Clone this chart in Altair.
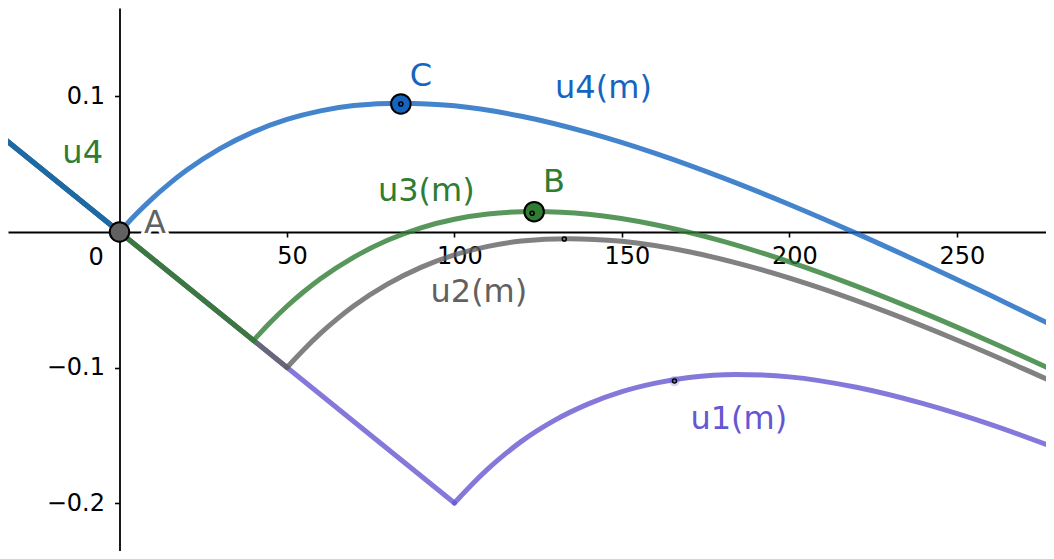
import altair as alt
import pandas as pd

# shared straight part u = -0.002 m
line_m = [-36, 0, 40, 50, 100]
line_u = [0.072, 0.0, -0.08, -0.1, -0.2]

# curved parts
u4_m = [0, 2, 5, 10, 15, 20, 30, 40, 50, 60, 70, 84, 100, 120, 140, 160, 180, 200, 220, 240, 260, 280]
u4_u = [0.0, 0.0054, 0.0132, 0.0252, 0.0359, 0.0455, 0.0615, 0.0739, 0.0831, 0.0894, 0.0933, 0.0951,
        0.0931, 0.0854, 0.0733, 0.058, 0.0401, 0.0203, -0.001, -0.0235, -0.0467, -0.0707]

u3_m = [40, 42, 45, 50, 55, 60, 70, 80, 90, 100, 110, 124, 140, 160, 180, 200, 220, 240, 260, 280]
u3_u = [-0.08, -0.0746, -0.0668, -0.0548, -0.0441, -0.0345, -0.0185, -0.0061, 0.0031, 0.0094, 0.0133,
        0.0151, 0.0131, 0.0054, -0.0067, -0.022, -0.0399, -0.0597, -0.081, -0.1035]

u2_m = [50, 52, 55, 60, 65, 70, 80, 90, 100, 110, 120, 134, 150, 170, 190, 210, 230, 250, 270, 290]
u2_u = [-0.1, -0.0946, -0.0868, -0.0748, -0.0641, -0.0545, -0.0385, -0.0261, -0.0169, -0.0106, -0.0067,
        -0.0049, -0.0069, -0.0146, -0.0267, -0.042, -0.0599, -0.0797, -0.101, -0.1235]

u1_m = [100, 102, 105, 110, 115, 120, 130, 140, 150, 160, 170, 184, 200, 220, 240, 260, 280, 300]
u1_u = [-0.2, -0.1946, -0.1868, -0.1748, -0.1641, -0.1545, -0.1388, -0.1268, -0.1178, -0.1115, -0.1074,
        -0.1051, -0.1069, -0.1146, -0.1267, -0.142, -0.1599, -0.1797]

# labelled points
pt_names = ["A", "B", "C"]
pt_m = [0, 123.8, 84.0]
pt_u = [0.0, 0.015, 0.0945]
pt_colors = ["#616161", "#2E7D32", "#1565C0"]

# small marker points
dot_m = [123.2, 84.0, 132.8, 165.7]
dot_u = [0.0138, 0.0945, -0.0052, -0.1100]

# text labels
lab_text = ["u4", "u4(m)", "u3(m)", "u2(m)", "u1(m)", "A", "B", "C"]
lab_m = [-11.0, 144.5, 91.6, 107.3, 184.9, 10.6, 129.7, 90.0]
lab_u = [0.0583, 0.1059, 0.0299, -0.0446, -0.138, 0.0066, 0.0369, 0.1148]
lab_colors = ["#2E7D32", "#1565C0", "#2E7D32", "#616161", "#6557D2", "#616161", "#2E7D32", "#1565C0"]

x_ticks = [50, 100, 150, 200, 250]
y_ticks = [-0.2, -0.1, 0.1]

FONT = "DejaVu Sans"

X = alt.X("m:Q", scale=alt.Scale(domain=[-33.29, 276.62], nice=False, zero=False),
          axis=alt.Axis(values=x_ticks, orient="bottom", offset=-319, title=None, grid=False,
                        domainColor="black", domainWidth=1.8, tickColor="black", tickWidth=1.6,
                        tickSize=5, labelFontSize=24, labelFont=FONT, labelColor="black",
                        labelPadding=7, labelOffset=5, labelFlush=False, labelOverlap=False))
Y = alt.Y("u:Q", scale=alt.Scale(domain=[-0.2354, 0.1653], nice=False, zero=False),
          axis=alt.Axis(values=y_ticks, orient="left", offset=-111.5, title=None, grid=False,
                        format=".1f", domainColor="black", domainWidth=1.8, tickColor="black",
                        tickWidth=1.6, tickSize=5, labelFontSize=24, labelFont=FONT,
                        labelColor="black", labelPadding=10, labelFlush=False, labelOverlap=False))


def series(start_idx, cm, cu):
    rows = [{"m": line_m[0], "u": line_u[0], "seg": 0},
            {"m": line_m[start_idx], "u": line_u[start_idx], "seg": 0}]
    rows += [{"m": a, "u": b, "seg": 1} for a, b in zip(cm, cu)]
    return pd.DataFrame(rows)


def line_layer(df, color):
    return alt.Chart(df).mark_line(
        color=color, strokeWidth=5, strokeOpacity=0.8, interpolate="monotone",
        strokeCap="round", strokeJoin="round", clip=True
    ).encode(x=X, y=Y, detail="seg:N")


layers = [
    line_layer(series(4, u1_m, u1_u), "#6557D2"),
    line_layer(series(3, u2_m, u2_u), "#616161"),
    line_layer(series(2, u3_m, u3_u), "#2E7D32"),
    line_layer(series(1, u4_m, u4_u), "#1565C0"),
]

lab_df = pd.DataFrame({"t": lab_text, "m": lab_m, "u": lab_u, "c": lab_colors})
halo = alt.Chart(lab_df[lab_df.t == "A"]).mark_text(
    font=FONT, fontSize=32, baseline="middle", align="center", stroke="white", strokeWidth=6,
    fill="white").encode(x=X, y=Y, text="t:N")
labels = alt.Chart(lab_df).mark_text(font=FONT, fontSize=32, baseline="middle", align="center").encode(
    x=X, y=Y, text="t:N", color=alt.Color("c:N", scale=None))

zero_df = pd.DataFrame({"t": ["0"], "m": [-7.0], "u": [-0.019]})
zero_lab = alt.Chart(zero_df).mark_text(font=FONT, fontSize=24, baseline="middle", align="center",
                                        color="black").encode(x=X, y=Y, text="t:N")

pt_df = pd.DataFrame({"n": pt_names, "m": pt_m, "u": pt_u, "c": pt_colors})
points = alt.Chart(pt_df).mark_point(shape="circle", filled=True, size=380, stroke="black",
                                     strokeWidth=2, opacity=1).encode(
    x=X, y=Y, fill=alt.Fill("c:N", scale=None))

halo_df = pd.DataFrame({"m": [dot_m[3]], "u": [dot_u[3]]})
dot_halo = alt.Chart(halo_df).mark_point(shape="circle", filled=True, size=110, color="#6557D2",
                                         opacity=0.25).encode(x=X, y=Y)

dot_df = pd.DataFrame({"m": dot_m, "u": dot_u})
dots = alt.Chart(dot_df).mark_point(shape="circle", filled=False, size=16, stroke="black",
                                    strokeWidth=1.6, opacity=1).encode(x=X, y=Y)

chart = alt.layer(*layers, dot_halo, points, dots, halo, labels, zero_lab).properties(
    width=1038, height=543, padding=0, autosize="none", background="white"
).configure_view(stroke=None)

chart.save("out.html", embed_options={"renderer": "svg", "actions": False})
